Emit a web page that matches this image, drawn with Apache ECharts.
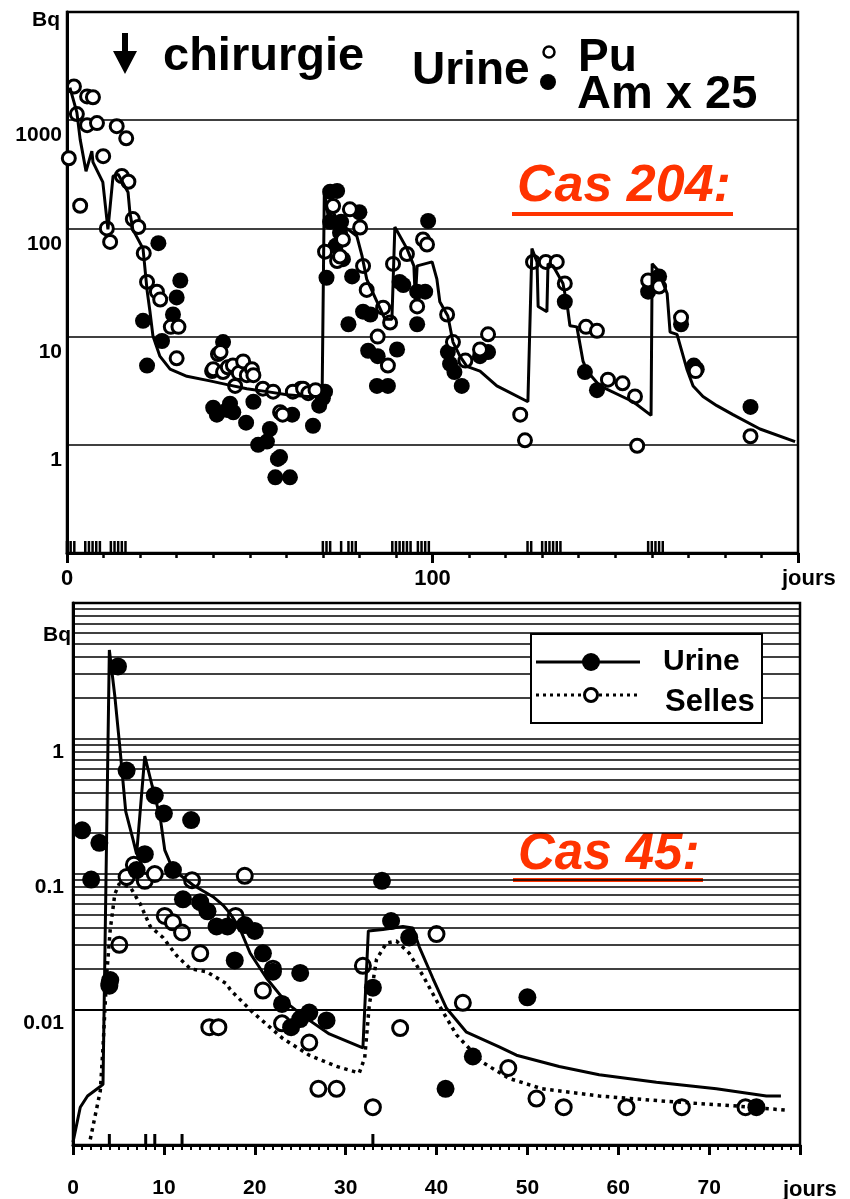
<!DOCTYPE html>
<html><head><meta charset="utf-8">
<script src="https://cdn.jsdelivr.net/npm/echarts@6/dist/echarts.min.js"></script>
<style>html,body{margin:0;padding:0;background:#fff}#c{width:850px;height:1199px}</style>
</head><body><div id="c"></div>
<script>
// ---------- Cas 204 (top) ----------
const topPuPoints = [
 [0.5,445],[1.9,2050],[2.7,1140],[3.6,162],[5.5,1660],[7.1,1630],[5.5,900],[8.2,940],[9.9,465],
 [10.9,100],[11.8,75],[13.6,880],[15,305],[16.2,680],[16.8,270],[18,122],[19.5,103],[21,59],
 [21.9,32],[24.6,26],[25.5,22],[28.4,12.3],[30.5,12.3],[30,6.3],
 [39.7,4.8],[40,5.0],[41.3,6.9],[42,7.2],[42.7,4.7],[44,5.2],[45.4,5.4],[46,3.5],[47,4.6],[48.2,5.9],
 [49.2,4.4],[50.6,5.0],[51,4.4],[53.6,3.3],[56.4,3.1],[58.3,2.0],[59,1.9],[61.8,3.1],[64.6,3.3],[66,3.0],[68,3.2],
 [70.6,61],[72.8,161],[73.9,50],[74.7,55],[75.5,79],[77.4,150],[80.2,102],[81,45],[82,27],[85,10],
 [86.5,18.5],[87.8,5.4],[88.4,13.5],[89.2,47],[93,58],[95.8,19],[97.4,79],[98.5,71],
 [104,16],[105.6,8.9],[109,6.0],[113,7.6],[115.2,10.5],
 [124,1.9],[125.3,1.1],[127.5,49],[131,49],[134,49],[136.2,31],[142,12.3],[145,11.3],[148,4.0],
 [152,3.7],[155.4,2.8],[156,0.98],[159,33],[162,29],[168,15],[172,4.8],[187,1.2]
];
const topAmPoints = [
 [20.8,14],[21.9,5.4],[25,73],[26,9.1],[29,16],[30,23],[31,33],
 [40,2.2],[41,1.9],[42.7,8.9],[43.8,2.1],[44.6,2.4],[45.5,2.0],[49,1.6],[51,2.5],[52.3,1.0],[54.7,1.07],
 [55.5,1.4],[57.7,0.74],[57,0.5],[58.3,0.77],[61,0.5],[61.6,1.9],[64,3.3],[67.3,1.5],[69,2.3],[70,2.7],[70.6,3.1],
 [71,35],[72,218],[73.9,222],[72,115],[75,115],[74.7,91],[73.5,69],[75.5,52],[78,36],[80,141],[77,13],
 [81,17],[83,16],[82.4,7.4],[85,6.6],[90.3,7.6],[84.8,3.5],[87.8,3.5],[91,32],[92,30],[95.8,26],[98,26],
 [95.8,13],[98.8,117],
 [104.2,7.2],[104.8,5.6],[106,4.7],[108,3.5],[113,6.6],[115.2,7.2],
 [136.2,21],[141.7,4.7],[145,3.2],[159,26],[162,36],[168,13],[171.5,5.4],[172.3,5.0],[187,2.24]
];
const topModelLine = [
 [0.8,2000],[2.7,1180],[3.6,665],[5.2,337],[6.8,517],[7.1,410],[9.8,268],[11.2,98],[12.6,304],[14,316],
 [16.7,216],[17.2,141],[18,98],[20.8,65],[21.9,27],[22.7,17],[23.5,10.2],[25.4,6.6],[28.2,5.0],[32.8,4.3],
 [39.1,3.9],[43.8,3.6],[49.2,3.3],[54.7,3.1],[60.2,2.9],[65.7,2.8],[69.8,2.8],[70.4,216],[71.4,134],
 [72.8,141],[74.7,110],[77.4,95],[79.3,85],[80.7,56],[82,34],[84.8,21],[87,14.5],[88.9,14.5],[89.7,103],
 [93,65],[94.9,45],[95.3,22],[95.8,45],[99.9,49],[101.2,34],[102,21],[104.2,15.5],[105.6,8.9],[107.5,6.6],
 [109.4,5.3],[113,4.8],[117.6,3.5],[126.1,2.5],[127.2,65],[128.6,49],[128.9,19],[131.3,17],[131.6,47],
 [133,45],[135.7,31],[137,18],[137.6,12.6],[139.5,12.3],[141.2,5.9],[142.5,4.7],[145.8,3.5],[154.9,2.5],
 [159.8,1.87],[160.1,47],[161.7,41],[164.2,25],[165,11],[166.9,10.5],[169.6,5.0],[171.3,3.5],[174,2.8],
 [177.8,2.3],[182.2,1.9],[189.6,1.4],[199.2,1.07]
];
const topRugDays = [0,1,2,5,6,7,8,9,12,13,14,15,16,70,71,72,75,77,78,79,89,90,91,92,93,94,96,97,98,99,
 126,127,130,131,132,133,134,135,159,160,161,162,163];
const topYLabelValues = [1,10,100,1000];
const topXLabelValues = [0,100];

// ---------- Cas 45 (bottom) ----------
const urinePoints = [
 [1.0,0.21],[2.0,0.091],[2.9,0.17],[4.0,0.015],[4.1,0.0165],[4.95,3.4],[5.9,0.58],[7.0,0.107],[7.9,0.14],
 [9.0,0.38],[10,0.28],[11,0.107],[12.1,0.065],[13,0.25],[14,0.062],[14.8,0.053],[15.8,0.041],[17,0.041],
 [17.8,0.023],[18.9,0.042],[20,0.038],[20.9,0.026],[22,0.019],[23,0.011],[24,0.0074],[25,0.0085],
 [25,0.0186],[26,0.0095],[27.9,0.0083],[33,0.0145],[34,0.089],[35,0.045],[37,0.034],[41,0.0026],
 [44,0.0045],[50,0.0123],[75.2,0.0019]
];
const sellesPoints = [
 [4.0,0.0155],[5.1,0.030],[5.9,0.095],[6.7,0.117],[7.9,0.089],[9.0,0.10],[10.1,0.049],[11,0.044],
 [12,0.037],[13.1,0.09],[14,0.026],[15,0.0074],[16,0.0074],[17.9,0.049],[18.9,0.097],[20.9,0.0138],
 [22,0.020],[23,0.0079],[26,0.0057],[27,0.0026],[29,0.0026],[31.9,0.021],[33,0.0019],[36,0.0073],
 [40,0.036],[42.9,0.0112],[47.9,0.0037],[51,0.0022],[54,0.0019],[60.9,0.0019],[67,0.0019],[74,0.0019]
];
const urineModel = [
 [0,0.00105],[0.8,0.0019],[1.6,0.0023],[3.0,0.0027],[3.3,0.0028],[4.0,4.5],[4.6,2.06],[5.2,0.80],
 [5.8,0.29],[6.6,0.18],[7.0,0.14],[7.9,0.74],[8.7,0.45],[9.6,0.26],[10.1,0.15],[11,0.108],[13.2,0.083],
 [15.4,0.068],[16.5,0.059],[17.3,0.051],[18.4,0.039],[19.5,0.026],[21.3,0.017],[23.5,0.0112],[25.7,0.0086],
 [28.2,0.0066],[31.9,0.0052],[32.5,0.038],[34.1,0.039],[36.3,0.041],[37.4,0.040],[38.1,0.029],[39.6,0.017],
 [41.1,0.0102],[43.3,0.0068],[46.9,0.0053],[48.8,0.0046],[53.5,0.0038],[57.9,0.0033],[64.2,0.0029],
 [70.8,0.0026],[76.3,0.0023],[77.9,0.0023]
];
const sellesModel = [
 [1.9,0.0011],[3.0,0.0025],[3.3,0.0052],[3.7,0.0178],[4.1,0.039],[4.6,0.071],[5.1,0.085],[6.3,0.08],
 [7.4,0.060],[8.5,0.041],[9.9,0.034],[11.4,0.025],[12.9,0.020],[14.7,0.019],[16.9,0.0155],[17.3,0.014],
 [19.8,0.0095],[23.1,0.0061],[26,0.0046],[29,0.0038],[31.5,0.0034],[32.1,0.0044],[32.6,0.0107],
 [33.4,0.0235],[34.5,0.031],[35.6,0.032],[37,0.026],[38.5,0.0178],[40.3,0.0107],[42.2,0.0065],
 [45,0.0041],[48,0.0031],[51.6,0.0026],[57.9,0.0023],[65.3,0.0021],[72.5,0.00195],[78.8,0.0018]
];
const bottomRugDays = [4,8,9,12,33];
const bottomYLabelValues = [0.01,0.1,1];
const bottomXLabelValues = [0,10,20,30,40,50,60,70];
const bottomDecades = [0.001,0.01,0.1,1];
const minorMultipliers = [2,3,4,5,6,7,8,9];

const FONT = '"Liberation Sans", Arial, sans-serif';
const minorGridValues = [];
bottomDecades.forEach(d => minorMultipliers.forEach(m => minorGridValues.push(d*m)));

function logLabel(list){
  return v => {
    const hit = list.find(t => Math.abs(Math.log10(v) - Math.log10(t)) < 1e-6);
    return hit === undefined ? '' : String(hit);
  };
}
function linLabel(list){
  return v => list.some(t => Math.abs(t - v) < 1e-6) ? String(v) : '';
}

const axisLineStyle = {show:true, onZero:false, lineStyle:{color:'#000', width:3}};
const labelBase = {color:'#000', fontWeight:'bold', fontFamily:FONT};
const filled = {color:'#000', opacity:1};
const open = {color:'#fff', borderColor:'#000', borderWidth:3, opacity:1};

const chart = echarts.init(document.getElementById('c'), null, {renderer:'canvas'});
chart.setOption({
  animation:false,
  backgroundColor:'#fff',
  grid:[
    {left:67, top:12, width:731, height:541, show:true, borderColor:'#000', borderWidth:2.5, backgroundColor:'transparent'},
    {left:73, top:603, width:727, height:545, show:true, borderColor:'#000', borderWidth:2.5, backgroundColor:'transparent'}
  ],
  xAxis:[
    {gridIndex:0, type:'value', min:0, max:200, interval:100,
     axisLine:axisLineStyle,
     axisTick:{show:true, length:10, lineStyle:{color:'#000', width:3}},
     minorTick:{show:true, splitNumber:10, length:5, lineStyle:{color:'#000', width:2.5}},
     axisLabel:Object.assign({margin:15, fontSize:22, formatter:linLabel(topXLabelValues)}, labelBase),
     splitLine:{show:false}},
    {gridIndex:1, type:'value', min:0, max:80, interval:10,
     axisLine:axisLineStyle,
     axisTick:{show:true, length:10, lineStyle:{color:'#000', width:3}},
     minorTick:{show:true, splitNumber:10, length:5, lineStyle:{color:'#000', width:2}},
     axisLabel:Object.assign({margin:33, fontSize:21, formatter:linLabel(bottomXLabelValues)}, labelBase),
     splitLine:{show:false}}
  ],
  yAxis:[
    {gridIndex:0, type:'log', logBase:10, min:0.1, max:10000,
     axisLine:axisLineStyle, axisTick:{show:false},
     axisLabel:Object.assign({margin:5, fontSize:21, verticalAlign:'top', padding:[5,0,0,0], formatter:logLabel(topYLabelValues)}, labelBase),
     splitLine:{show:true, lineStyle:{color:'#000', width:1.5}}},
    {gridIndex:1, type:'log', logBase:10, min:0.001, max:10,
     axisLine:axisLineStyle, axisTick:{show:false},
     axisLabel:Object.assign({margin:9, fontSize:21, verticalAlign:'top', padding:[3,0,0,0], formatter:logLabel(bottomYLabelValues)}, labelBase),
     splitLine:{show:true, lineStyle:{color:'#000', width:1.6}}}
  ],
  series:[
    // top
    {type:'scatter', name:'Am x 25', xAxisIndex:0, yAxisIndex:0, z:2, data:topAmPoints,
     symbol:'circle', symbolSize:16, itemStyle:filled},
    {type:'scatter', name:'Pu', xAxisIndex:0, yAxisIndex:0, z:3, data:topPuPoints,
     symbol:'circle', symbolSize:13, itemStyle:open},
    {type:'line', name:'modèle', xAxisIndex:0, yAxisIndex:0, z:4, data:topModelLine,
     showSymbol:false, symbol:'none', lineStyle:{color:'#000', width:3}},
    {type:'scatter', name:'rug1', xAxisIndex:0, yAxisIndex:0, z:4, clip:false,
     data:topRugDays.map(d => [d, 0.1]), symbol:'rect', symbolSize:[2.5,12], symbolOffset:[0,-6],
     itemStyle:filled},
    // bottom
    {type:'line', name:'grid', xAxisIndex:1, yAxisIndex:1, z:1, data:[], symbol:'none',
     markLine:{silent:true, symbol:['none','none'], label:{show:false},
       lineStyle:{color:'#000', width:1.6, type:'solid'}, emphasis:{disabled:true},
       data:minorGridValues.map(v => ({yAxis:v}))}},
    {type:'scatter', name:'Selles', xAxisIndex:1, yAxisIndex:1, z:2, data:sellesPoints,
     symbol:'circle', symbolSize:15, itemStyle:open},
    {type:'scatter', name:'Urine', xAxisIndex:1, yAxisIndex:1, z:3, data:urinePoints,
     symbol:'circle', symbolSize:18, itemStyle:filled},
    {type:'line', name:'Urine modèle', xAxisIndex:1, yAxisIndex:1, z:4, data:urineModel,
     showSymbol:false, symbol:'none', lineStyle:{color:'#000', width:3}},
    {type:'line', name:'Selles modèle', xAxisIndex:1, yAxisIndex:1, z:4, data:sellesModel,
     showSymbol:false, symbol:'none', lineStyle:{color:'#000', width:3.5, type:[3.5,4.5]}},
    {type:'scatter', name:'rug2', xAxisIndex:1, yAxisIndex:1, z:4, clip:false,
     data:bottomRugDays.map(d => [d, 0.001]), symbol:'rect', symbolSize:[3,11], symbolOffset:[0,-5.5],
     itemStyle:filled}
  ],
  graphic:[
    // top chart texts
    {type:'text', style:{text:'Bq', x:32, y:20, font:'bold 21px '+FONT, fill:'#000', verticalAlign:'middle'}},
    {type:'polygon', shape:{points:[[122,33],[128,33],[128,51],[137,51],[125,74],[113,51],[122,51]]}, style:{fill:'#000'}},
    {type:'text', style:{text:'chirurgie', x:163, y:57, font:'bold 47px '+FONT, fill:'#000', verticalAlign:'middle'}},
    {type:'text', style:{text:'Urine', x:412, y:71, font:'bold 46px '+FONT, fill:'#000', verticalAlign:'middle'}},
    {type:'circle', shape:{cx:549, cy:52, r:5.5}, style:{fill:'#fff', stroke:'#000', lineWidth:2.5}},
    {type:'circle', shape:{cx:548, cy:82, r:8}, style:{fill:'#000'}},
    {type:'text', style:{text:'Pu', x:578, y:58, font:'bold 46px '+FONT, fill:'#000', verticalAlign:'middle'}},
    {type:'text', style:{text:'Am x 25', x:577, y:95, font:'bold 47px '+FONT, fill:'#000', verticalAlign:'middle'}},
    {type:'text', style:{text:'Cas 204:', x:517, y:187, font:'italic bold 52px '+FONT, fill:'#ff3300', verticalAlign:'middle'}},
    {type:'rect', shape:{x:512, y:212, width:221, height:4}, style:{fill:'#ff3300'}},
    {type:'text', style:{text:'jours', x:782, y:579, font:'bold 22px '+FONT, fill:'#000', verticalAlign:'middle'}},
    // bottom chart texts
    {type:'text', style:{text:'Bq', x:43, y:635, font:'bold 21px '+FONT, fill:'#000', verticalAlign:'middle'}},
    {type:'rect', z:100, shape:{x:531, y:634, width:231, height:89}, style:{fill:'#fff', stroke:'#000', lineWidth:2}},
    {type:'line', z:101, shape:{x1:536, y1:662, x2:640, y2:662}, style:{stroke:'#000', lineWidth:3}},
    {type:'circle', z:101, shape:{cx:591, cy:662, r:9}, style:{fill:'#000'}},
    {type:'line', z:101, shape:{x1:536, y1:695, x2:640, y2:695}, style:{stroke:'#000', lineWidth:3, lineDash:[3,4]}},
    {type:'circle', z:101, shape:{cx:591, cy:695, r:6.5}, style:{fill:'#fff', stroke:'#000', lineWidth:3}},
    {type:'text', z:101, style:{text:'Urine', x:663, y:662, font:'bold 30px '+FONT, fill:'#000', verticalAlign:'middle'}},
    {type:'text', z:101, style:{text:'Selles', x:665, y:702, font:'bold 31px '+FONT, fill:'#000', verticalAlign:'middle'}},
    {type:'text', style:{text:'Cas 45:', x:518, y:855, font:'italic bold 51px '+FONT, fill:'#ff3300', verticalAlign:'middle'}},
    {type:'rect', shape:{x:513, y:878, width:190, height:4}, style:{fill:'#ff3300'}},
    {type:'text', style:{text:'jours', x:783, y:1190, font:'bold 22px '+FONT, fill:'#000', verticalAlign:'middle'}}
  ]
});
</script></body></html>
